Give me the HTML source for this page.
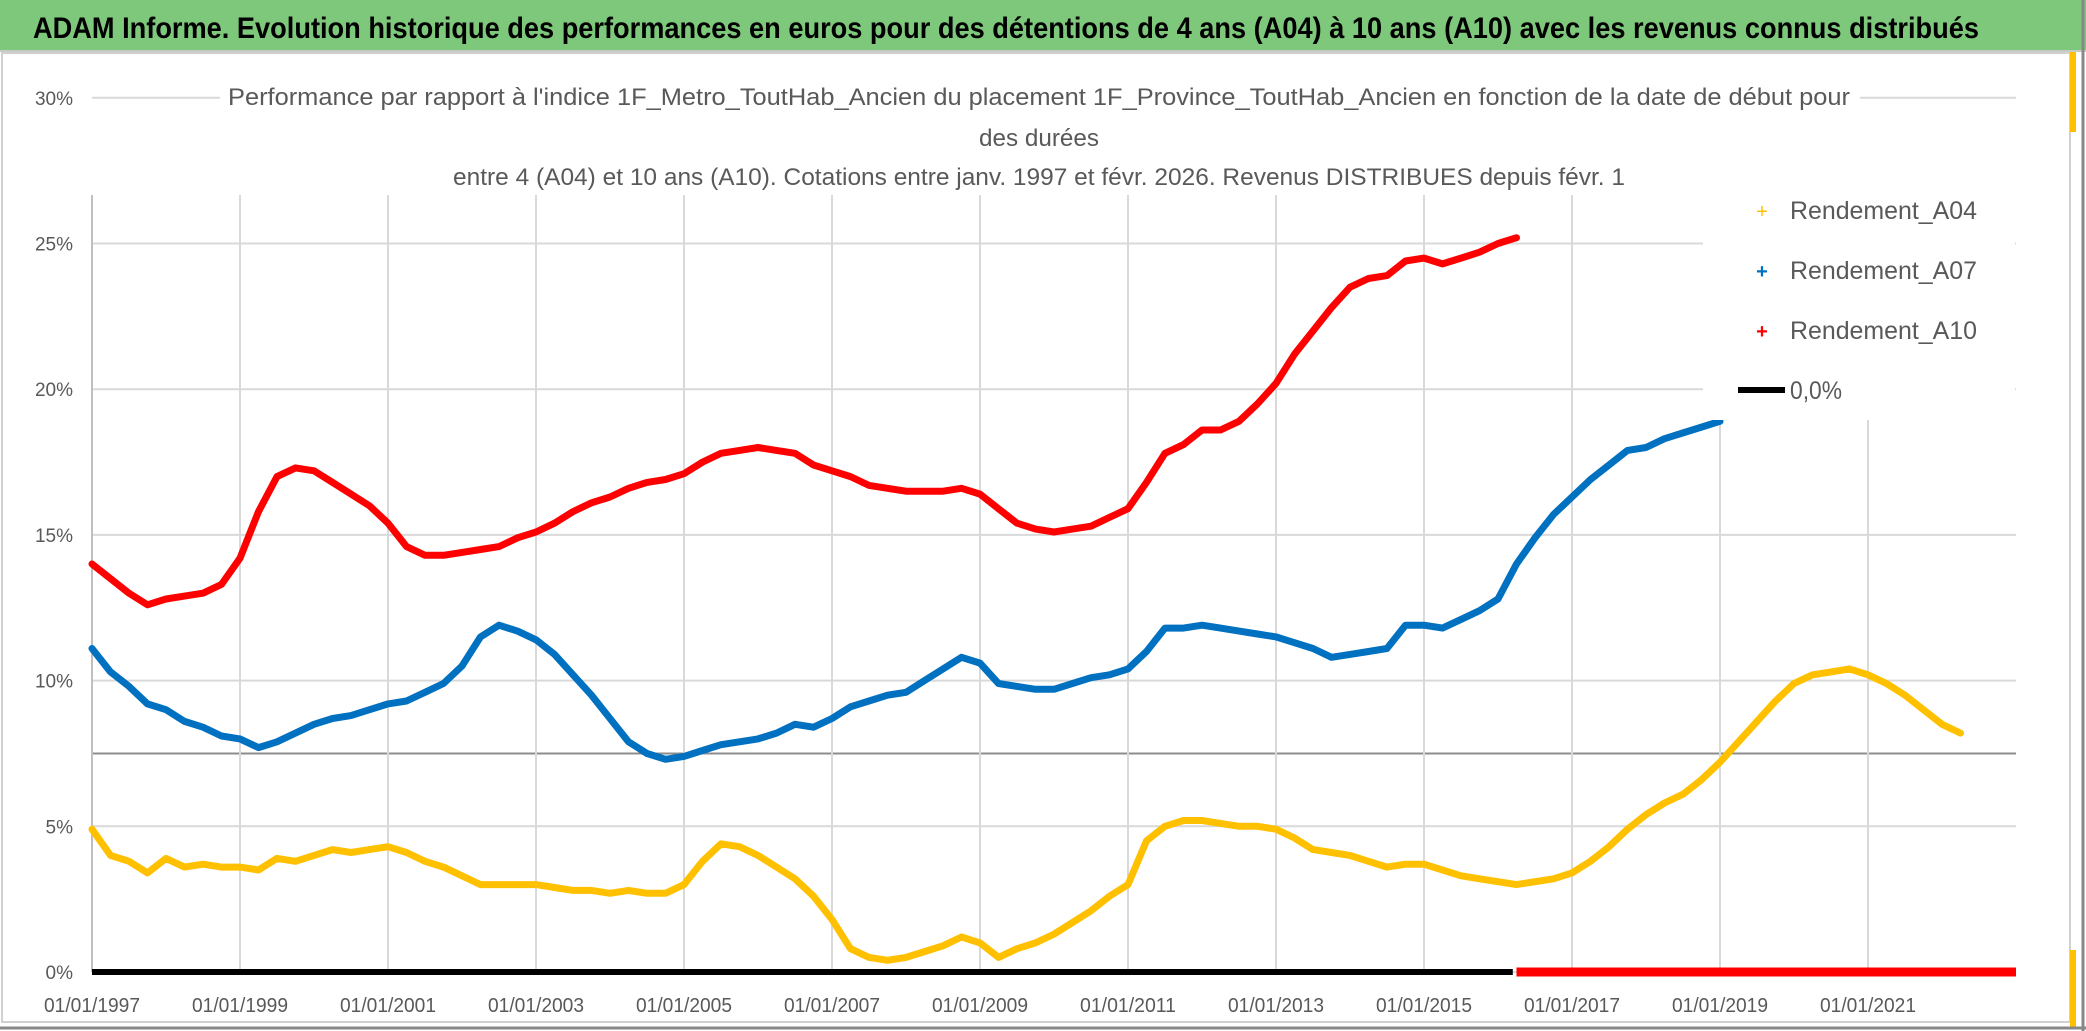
<!DOCTYPE html>
<html><head><meta charset="utf-8"><style>
html,body{margin:0;padding:0;background:#fff;}
svg{display:block;font-family:"Liberation Sans",sans-serif;}
</style></head><body>
<svg id="chart" width="2086" height="1031" viewBox="0 0 2086 1031" xmlns="http://www.w3.org/2000/svg">
<rect x="0" y="0" width="2086" height="1031" fill="#fff"/>
<rect x="0" y="0" width="2086" height="50" fill="#7ec87c"/>
<line x1="0" y1="51" x2="2086" y2="51" fill="none" stroke="#c8c8c8" stroke-width="2"/>
<text x="33" y="38" font-size="30" font-weight="bold" fill="#000" textLength="1946" lengthAdjust="spacingAndGlyphs">ADAM Informe. Evolution historique des performances en euros pour des détentions de 4 ans (A04) à 10 ans (A10) avec les revenus connus distribués</text>
<rect x="2" y="53" width="2068" height="969" fill="none" stroke="#d0d0d0" stroke-width="2"/>
<rect x="2070" y="52" width="6" height="80" fill="#ffc000"/>
<rect x="2070" y="950" width="6" height="78" fill="#ffc000"/>
<line x1="0" y1="1028" x2="2086" y2="1028" stroke="#888" stroke-width="3"/>
<line x1="2083" y1="0" x2="2083" y2="1031" stroke="#888" stroke-width="3"/>
<g id="grid"></g>
<g id="series"></g>
<rect x="220" y="80" width="1640" height="115" fill="#fff"/>
<g fill="#595959" font-size="24">
<text x="228" y="105" textLength="1622" lengthAdjust="spacingAndGlyphs">Performance par rapport à l'indice 1F_Metro_ToutHab_Ancien  du placement 1F_Province_ToutHab_Ancien en fonction de la date de début pour</text>
<text x="979" y="146" textLength="120" lengthAdjust="spacingAndGlyphs">des durées</text>
<text x="453" y="185" textLength="1172" lengthAdjust="spacingAndGlyphs">entre 4 (A04) et 10 ans (A10). Cotations entre janv. 1997 et févr. 2026. Revenus DISTRIBUES depuis févr. 1</text>
</g>
<g>
<rect x="1703" y="195" width="312" height="225" fill="#fff"/>
<g><text x="1762" y="218" font-size="20" fill="#ffc000" text-anchor="middle">+</text><text x="1790" y="219" font-size="25" fill="#595959" textLength="187" lengthAdjust="spacingAndGlyphs">Rendement_A04</text></g>
<g><text x="1762" y="278" font-size="20" font-weight="bold" fill="#0070c0" text-anchor="middle">+</text><text x="1790" y="279" font-size="25" fill="#595959" textLength="187" lengthAdjust="spacingAndGlyphs">Rendement_A07</text></g>
<g><text x="1762" y="338" font-size="20" font-weight="bold" fill="#ff0000" text-anchor="middle">+</text><text x="1790" y="339" font-size="25" fill="#595959" textLength="187" lengthAdjust="spacingAndGlyphs">Rendement_A10</text></g>
<g><line x1="1738" y1="390" x2="1785" y2="390" stroke="#000" stroke-width="6"/><text x="1790" y="399" font-size="25" fill="#595959" textLength="52" lengthAdjust="spacingAndGlyphs">0,0%</text></g>
</g>
</svg>
<script>
const yTicks=[0,5,10,15,20,25,30];
const yTickLabels=["0%","5%","10%","15%","20%","25%","30%"];
const xTicks=[1997,1999,2001,2003,2005,2007,2009,2011,2013,2015,2017,2019,2021];
const xTickLabels=["01/01/1997","01/01/1999","01/01/2001","01/01/2003","01/01/2005","01/01/2007","01/01/2009","01/01/2011","01/01/2013","01/01/2015","01/01/2017","01/01/2019","01/01/2021"];
const a04Start=1997;
const a04=[4.9,4.0,3.8,3.4,3.9,3.6,3.7,3.6,3.6,3.5,3.9,3.8,4.0,4.2,4.1,4.2,4.3,4.1,3.8,3.6,3.3,3.0,3.0,3.0,3.0,2.9,2.8,2.8,2.7,2.8,2.7,2.7,3.0,3.8,4.4,4.3,4.0,3.6,3.2,2.6,1.8,0.8,0.5,0.4,0.5,0.7,0.9,1.2,1.0,0.5,0.8,1.0,1.3,1.7,2.1,2.6,3.0,4.5,5.0,5.2,5.2,5.1,5.0,5.0,4.9,4.6,4.2,4.1,4.0,3.8,3.6,3.7,3.7,3.5,3.3,3.2,3.1,3.0,3.1,3.2,3.4,3.8,4.3,4.9,5.4,5.8,6.1,6.6,7.2,7.9,8.6,9.3,9.9,10.2,10.3,10.4,10.2,9.9,9.5,9.0,8.5,8.2];
const a07Start=1997;
const a07=[11.1,10.3,9.8,9.2,9.0,8.6,8.4,8.1,8.0,7.7,7.9,8.2,8.5,8.7,8.8,9.0,9.2,9.3,9.6,9.9,10.5,11.5,11.9,11.7,11.4,10.9,10.2,9.5,8.7,7.9,7.5,7.3,7.4,7.6,7.8,7.9,8.0,8.2,8.5,8.4,8.7,9.1,9.3,9.5,9.6,10.0,10.4,10.8,10.6,9.9,9.8,9.7,9.7,9.9,10.1,10.2,10.4,11.0,11.8,11.8,11.9,11.8,11.7,11.6,11.5,11.3,11.1,10.8,10.9,11.0,11.1,11.9,11.9,11.8,12.1,12.4,12.8,14.0,14.9,15.7,16.3,16.9,17.4,17.9,18.0,18.3,18.5,18.7,18.9];
const a10Start=1997;
const a10=[14.0,13.5,13.0,12.6,12.8,12.9,13.0,13.3,14.2,15.8,17.0,17.3,17.2,16.8,16.4,16.0,15.4,14.6,14.3,14.3,14.4,14.5,14.6,14.9,15.1,15.4,15.8,16.1,16.3,16.6,16.8,16.9,17.1,17.5,17.8,17.9,18.0,17.9,17.8,17.4,17.2,17.0,16.7,16.6,16.5,16.5,16.5,16.6,16.4,15.9,15.4,15.2,15.1,15.2,15.3,15.6,15.9,16.8,17.8,18.1,18.6,18.6,18.9,19.5,20.2,21.2,22.0,22.8,23.5,23.8,23.9,24.4,24.5,24.3,24.5,24.7,25.0,25.2];
const zeroLine=[0,0];
const zeroLineYears=[1997,2016.2];
const a10ZeroYears=[2016.25,2023.0];
const a10ZeroValue=0;

const X0=92,PX_PER_YEAR=74,Y0=972,PX_PER_PCT=29.14;
const xs=t=>X0+(t-1997)*PX_PER_YEAR;
const ys=v=>Y0-v*PX_PER_PCT;
const NS="http://www.w3.org/2000/svg";
const grid=document.getElementById('grid'),ser=document.getElementById('series');
function mk(tag,attrs,parent){const e=document.createElementNS(NS,tag);for(const k in attrs)e.setAttribute(k,attrs[k]);parent.appendChild(e);return e;}
const right=xs(2023);
yTicks.forEach((v,i)=>{
  const l=mk('line',{x1:X0,x2:right,y1:ys(v),y2:ys(v),stroke:'#d9d9d9','stroke-width':2},grid);
  
  
  const t=mk('text',{x:73,y:ys(v)+7,'font-size':19,fill:'#595959','text-anchor':'end'},grid);
  t.textContent=yTickLabels[i];
  
  
});
const mid=mk('line',{x1:X0,x2:right,y1:ys(7.5),y2:ys(7.5),stroke:'#8c8c8c','stroke-width':2},grid);


xTicks.forEach((t,i)=>{
  const l=mk('line',{x1:xs(t),x2:xs(t),y1:195,y2:Y0,stroke:'#d9d9d9','stroke-width':2},grid);
  
  
  const tx=mk('text',{x:xs(t),y:1012,'font-size':20,fill:'#595959','text-anchor':'middle',textLength:96,lengthAdjust:'spacingAndGlyphs'},grid);
  tx.textContent=xTickLabels[i];
  
  
});
const ax=mk('line',{x1:X0,x2:X0,y1:195,y2:Y0,stroke:'#bfbfbf','stroke-width':2},grid);


function drawSeries(vals,start,color,name){
  const pts=vals.map((v,i)=>xs(start+i*0.25).toFixed(1)+','+ys(v).toFixed(1)).join(' ');
  const p=mk('polyline',{points:pts,fill:'none',stroke:color,'stroke-width':7,'stroke-linejoin':'round','stroke-linecap':'round'},ser);
  
  
}
const zl=mk('line',{x1:xs(zeroLineYears[0]),x2:xs(zeroLineYears[1]),y1:ys(zeroLine[0]),y2:ys(zeroLine[1]),stroke:'#000','stroke-width':6},ser);


drawSeries(a04,a04Start,'#ffc000','series-a04');
drawSeries(a07,a07Start,'#0070c0','series-a07');
drawSeries(a10,a10Start,'#ff0000','series-a10');
const rz=mk('line',{x1:xs(a10ZeroYears[0]),x2:xs(a10ZeroYears[1]),y1:ys(a10ZeroValue),y2:ys(a10ZeroValue),stroke:'#ff0000','stroke-width':9},ser);


</script>
</body></html>
